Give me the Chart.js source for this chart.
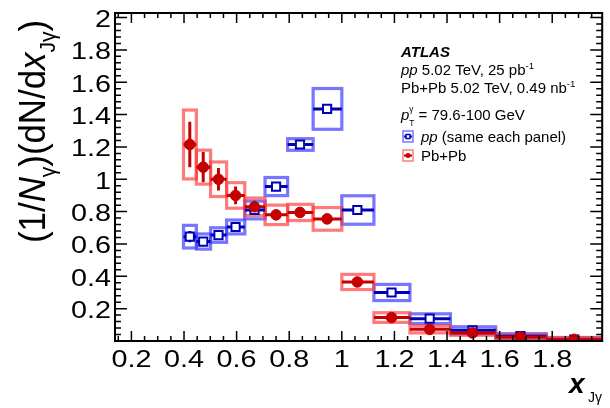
<!DOCTYPE html>
<html>
<head>
<meta charset="utf-8">
<script src="https://cdn.jsdelivr.net/npm/chart.js@4.4.0/dist/chart.umd.min.js"></script>
<style>
body { margin: 0; background: #fff; }
canvas { display: block; }
</style>
</head>
<body>
<canvas id="graph" width="610" height="408"></canvas>
<script>
// Bins en x_Jgamma
const xCenters = [0.422, 0.473, 0.531, 0.596, 0.668, 0.750, 0.841, 0.944, 1.059, 1.189, 1.334, 1.497, 1.679, 1.884];
const binLow  = [0.398, 0.447, 0.501, 0.562, 0.631, 0.708, 0.794, 0.891, 1.000, 1.122, 1.259, 1.413, 1.585, 1.778];
const binHigh = [0.447, 0.501, 0.562, 0.631, 0.708, 0.794, 0.891, 1.000, 1.122, 1.259, 1.413, 1.585, 1.778, 1.995];

// pp
const ppValues = [0.645, 0.615, 0.655, 0.705, 0.810, 0.955, 1.215, 1.435, 0.810, 0.300, 0.138, 0.066, 0.030, 0.008];
const ppStat   = [0.035, 0.020, 0.020, 0.020, 0.020, 0.020, 0.020, 0.025, 0.020, 0.010, 0.008, 0.005, 0.004, 0.003];
const ppSyst   = [0.070, 0.047, 0.045, 0.043, 0.055, 0.056, 0.036, 0.126, 0.088, 0.050, 0.030, 0.022, 0.015, 0.012];

// Pb+Pb
const pbpbValues = [1.215, 1.075, 1.000, 0.900, 0.830, 0.780, 0.795, 0.755, 0.365, 0.145, 0.072, 0.050, 0.025, 0.010];
const pbpbStat   = [0.140, 0.093, 0.070, 0.055, 0.037, 0.030, 0.030, 0.030, 0.015, 0.010, 0.008, 0.006, 0.005, 0.005];
const pbpbSyst   = [0.213, 0.105, 0.107, 0.079, 0.054, 0.060, 0.050, 0.070, 0.047, 0.030, 0.022, 0.015, 0.012, 0.012];

// Graduations
const xTickValues = [0.2, 0.4, 0.6, 0.8, 1, 1.2, 1.4, 1.6, 1.8];
const xTickLabels = ['0.2', '0.4', '0.6', '0.8', '1', '1.2', '1.4', '1.6', '1.8'];
const yTickValues = [0.2, 0.4, 0.6, 0.8, 1, 1.2, 1.4, 1.6, 1.8, 2];
const yTickLabels = ['0.2', '0.4', '0.6', '0.8', '1', '1.2', '1.4', '1.6', '1.8', '2'];

const BLUE_BOX = 'rgba(60, 60, 255, 0.7)';
const RED_BOX = 'rgba(255, 55, 55, 0.66)';
const BLUE_MARK = '#0000b4';
const RED_MARK = '#c40000';
const FONT = '"Liberation Sans", Arial, Helvetica, sans-serif';

// Ecrire un texte en plusieurs morceaux (italique, indice, exposant)
function drawParts(ctx, parts, x, y, size, measureOnly) {
    let cx = x;
    parts.forEach(p => {
        const s = size * (p.scale || 1);
        ctx.font = (p.style || '') + ' ' + s + 'px ' + FONT;
        if (!measureOnly) ctx.fillText(p.t, cx, y + (p.dy || 0) * size);
        if (!p.keep) cx += ctx.measureText(p.t).width;
    });
    return cx - x;
}

function drawBoxes(ctx, xs, ys, values, syst, color) {
    ctx.strokeStyle = color;
    ctx.lineWidth = 3.2;
    values.forEach((v, i) => {
        const x1 = xs.getPixelForValue(binLow[i]);
        const x2 = xs.getPixelForValue(binHigh[i]);
        const y1 = ys.getPixelForValue(v + syst[i]);
        const y2 = ys.getPixelForValue(v - syst[i]);
        ctx.strokeRect(x1, y1, x2 - x1, y2 - y1);
    });
}

function drawErrors(ctx, xs, ys, values, stat, color) {
    ctx.strokeStyle = color;
    ctx.lineWidth = 3;
    values.forEach((v, i) => {
        const px = xs.getPixelForValue(xCenters[i]);
        const py = ys.getPixelForValue(v);
        ctx.beginPath();
        ctx.moveTo(xs.getPixelForValue(binLow[i]), py);
        ctx.lineTo(xs.getPixelForValue(binHigh[i]), py);
        ctx.moveTo(px, ys.getPixelForValue(v + stat[i]));
        ctx.lineTo(px, ys.getPixelForValue(v - stat[i]));
        ctx.stroke();
    });
}

const errorPlugin = {
    id: 'errors',
    beforeDatasetsDraw(chart) {
        const ctx = chart.ctx;
        const xs = chart.scales.x;
        const ys = chart.scales.y;
        const a = chart.chartArea;
        ctx.save();
        ctx.beginPath();
        ctx.rect(a.left, a.top, a.right - a.left, a.bottom - a.top);
        ctx.clip();
        drawBoxes(ctx, xs, ys, ppValues, ppSyst, BLUE_BOX);
        drawBoxes(ctx, xs, ys, pbpbValues, pbpbSyst, RED_BOX);
        drawErrors(ctx, xs, ys, ppValues, ppStat, BLUE_MARK);
        drawErrors(ctx, xs, ys, pbpbValues, pbpbStat, RED_MARK);
        ctx.restore();
    }
};

const framePlugin = {
    id: 'frame',
    afterDraw(chart) {
        const ctx = chart.ctx;
        const xs = chart.scales.x;
        const ys = chart.scales.y;
        const a = chart.chartArea;
        ctx.save();
        ctx.strokeStyle = '#000';
        ctx.fillStyle = '#000';

        // Petites graduations
        ctx.lineWidth = 1.5;
        ctx.beginPath();
        for (let k = 3; k <= 39; k++) {
            const v = k * 0.05;
            const px = xs.getPixelForValue(v);
            const len = (k % 4 === 0) ? 10 : 5;
            ctx.moveTo(px, a.bottom); ctx.lineTo(px, a.bottom - len);
            ctx.moveTo(px, a.top); ctx.lineTo(px, a.top + len);
        }
        for (let k = 1; k <= 50; k++) {
            const v = k * 0.04;
            const py = ys.getPixelForValue(v);
            const len = (k % 5 === 0) ? 12 : 6;
            ctx.moveTo(a.left, py); ctx.lineTo(a.left + len, py);
            ctx.moveTo(a.right, py); ctx.lineTo(a.right - len, py);
        }
        ctx.stroke();

        ctx.lineWidth = 2;
        ctx.strokeRect(a.left, a.top, a.right - a.left, a.bottom - a.top);

        // Labels des axes
        ctx.font = '24px ' + FONT;
        ctx.textBaseline = 'alphabetic';
        ctx.textAlign = 'right';
        yTickValues.forEach((v, i) => {
            ctx.save();
            ctx.translate(a.left - 4, ys.getPixelForValue(v) + 9.5);
            ctx.scale(1.2, 1);
            ctx.fillText(yTickLabels[i], 0, 0);
            ctx.restore();
        });
        ctx.textAlign = 'center';
        xTickValues.forEach((v, i) => {
            ctx.save();
            ctx.translate(xs.getPixelForValue(v), a.bottom + 26);
            ctx.scale(1.2, 1);
            ctx.fillText(xTickLabels[i], 0, 0);
            ctx.restore();
        });

        // Titre axe y
        ctx.textAlign = 'left';
        const yTitle = [
            { t: '(1/' },
            { t: 'N', style: 'italic' },
            { t: 'γ', scale: 0.6, dy: 0.28 },
            { t: ')(dN/d' },
            { t: 'x', style: 'italic' },
            { t: 'Jγ', scale: 0.6, dy: 0.28 },
            { t: ')' }
        ];
        const w = drawParts(ctx, yTitle, 0, 0, 30, true);
        ctx.save();
        ctx.translate(45, 243);
        ctx.rotate(-Math.PI / 2);
        ctx.scale(223 / w, 1.22);
        drawParts(ctx, yTitle, 0, 0, 30);
        ctx.restore();

        // Titre axe x
        drawParts(ctx, [{ t: 'x', style: 'bold italic' }], 569, 393, 28);
        drawParts(ctx, [{ t: 'Jγ' }], 588, 402, 14);

        // Legende
        const L = 15;
        drawParts(ctx, [{ t: 'ATLAS', style: 'bold italic' }], 401, 57, L);
        drawParts(ctx, [
            { t: 'pp', style: 'italic' },
            { t: ' 5.02 TeV, 25 pb' },
            { t: '-1', scale: 0.65, dy: -0.42 }
        ], 401, 75, L);
        drawParts(ctx, [
            { t: 'Pb+Pb 5.02 TeV, 0.49 nb' },
            { t: '-1', scale: 0.65, dy: -0.42 }
        ], 401, 93, L);
        drawParts(ctx, [
            { t: 'p', style: 'italic' },
            { t: 'γ', scale: 0.55, dy: -0.55, keep: true },
            { t: 'T', scale: 0.55, dy: 0.4 },
            { t: ' = 79.6-100 GeV' }
        ], 401, 120, L);
        drawParts(ctx, [
            { t: 'pp', style: 'italic' },
            { t: ' (same each panel)' }
        ], 421, 142, L);
        drawParts(ctx, [{ t: 'Pb+Pb' }], 421, 161, L);

        // Symboles de la legende
        ctx.lineWidth = 1.5;
        ctx.strokeStyle = BLUE_BOX;
        ctx.strokeRect(403, 131, 10, 11);
        ctx.strokeStyle = RED_BOX;
        ctx.strokeRect(403, 150, 10, 11);
        ctx.lineWidth = 2;
        ctx.strokeStyle = BLUE_MARK;
        ctx.beginPath(); ctx.moveTo(404, 136.5); ctx.lineTo(412, 136.5); ctx.stroke();
        ctx.fillStyle = '#fff';
        ctx.lineWidth = 1.5;
        ctx.fillRect(406, 134.5, 4, 4);
        ctx.strokeRect(406, 134.5, 4, 4);
        ctx.strokeStyle = RED_MARK;
        ctx.lineWidth = 2;
        ctx.beginPath(); ctx.moveTo(404, 155.5); ctx.lineTo(412, 155.5); ctx.stroke();
        ctx.fillStyle = RED_MARK;
        ctx.beginPath(); ctx.arc(408, 155.5, 2.5, 0, Math.PI * 2); ctx.fill();

        ctx.restore();
    }
};

window.onload = function () {
    new Chart(document.getElementById('graph'), {
        type: 'scatter',
        data: {
            datasets: [
                {
                    label: 'Pb+Pb',
                    data: xCenters.map((x, i) => ({ x: x, y: pbpbValues[i] })),
                    pointStyle: 'circle',
                    pointRadius: 5.3,
                    backgroundColor: RED_MARK,
                    borderColor: RED_MARK,
                    borderWidth: 1
                },
                {
                    label: 'pp (same each panel)',
                    data: xCenters.map((x, i) => ({ x: x, y: ppValues[i] })),
                    pointStyle: 'rect',
                    pointRadius: 5.8,
                    backgroundColor: '#fff',
                    borderColor: BLUE_MARK,
                    borderWidth: 2
                }
            ]
        },
        options: {
            responsive: false,
            animation: false,
            layout: { padding: { top: 13, right: 1, left: 0, bottom: 0 } },
            plugins: { legend: { display: false }, tooltip: { enabled: false } },
            scales: {
                x: {
                    type: 'linear',
                    min: 0.1376,
                    max: 1.99,
                    grid: { display: false },
                    border: { display: false },
                    ticks: { display: false },
                    afterFit(scale) { scale.height = 67; }
                },
                y: {
                    min: 0,
                    max: 2.028,
                    grid: { display: false },
                    border: { display: false },
                    ticks: { display: false },
                    afterFit(scale) { scale.width = 115; }
                }
            }
        },
        plugins: [errorPlugin, framePlugin]
    });
};
</script>
</body>
</html>
